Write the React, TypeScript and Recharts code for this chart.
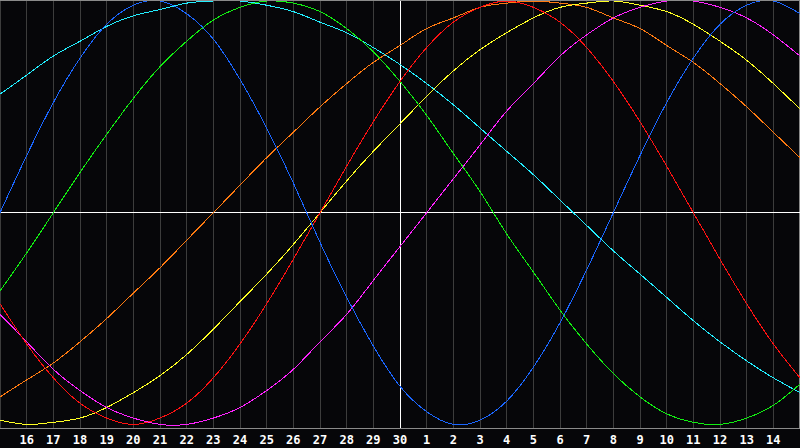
import { LineChart, Line, XAxis, YAxis, CartesianGrid, ReferenceLine } from "recharts";

// day labels for each column of the chart (15th of last month .. 15th of this month)
const dayLabels = [
  "15", "16", "17", "18", "19", "20", "21", "22", "23", "24", "25", "26", "27", "28", "29", "30",
  "1", "2", "3", "4", "5", "6", "7", "8", "9", "10", "11", "12", "13", "14", "15",
];
const tickIdx = [1, 2, 3, 4, 5, 6, 7, 8, 9, 10, 11, 12, 13, 14, 15, 16, 17, 18, 19, 20, 21, 22, 23, 24, 25, 26, 27, 28, 29];

// cycle values in %, one per day
const physical = [0, 27, 52, 73, 89, 98, 100, 94, 82, 63, 40, 14, -14, -40, -63, -82, -94, -100, -98, -89, -73, -52, -27, 0, 27, 52, 73, 89, 98, 100, 94];
const emotional = [-43, -62, -78, -90, -97, -100, -97, -90, -78, -62, -43, -22, 0, 22, 43, 62, 78, 90, 97, 100, 97, 90, 78, 62, 43, 22, 0, -22, -43, -62, -78];
const intellectual = [-37, -19, 0, 19, 37, 54, 69, 81, 91, 97, 100, 99, 95, 87, 76, 62, 46, 28, 10, -10, -28, -46, -62, -76, -87, -95, -99, -100, -97, -91, -81];
const intuitive = [-48, -61, -74, -84, -92, -97, -100, -100, -97, -92, -84, -74, -61, -48, -32, -16, 0, 16, 32, 48, 61, 74, 84, 92, 97, 100, 100, 97, 92, 84, 74];
const aesthetic = [-98, -100, -99, -97, -92, -85, -77, -67, -55, -42, -29, -15, 0, 15, 29, 42, 55, 67, 77, 85, 92, 97, 99, 100, 98, 95, 89, 81, 72, 61, 49];
const awareness = [-87, -79, -71, -61, -50, -38, -26, -13, 0, 13, 26, 38, 50, 61, 71, 79, 87, 92, 97, 99, 100, 99, 97, 92, 87, 79, 71, 61, 50, 38, 26];
const spiritual = [56, 65, 74, 81, 88, 93, 96, 99, 100, 100, 98, 95, 90, 85, 78, 70, 61, 51, 40, 29, 18, 6, -6, -18, -29, -40, -51, -61, -70, -78, -85];

const data = dayLabels.map((_, i) => ({
  idx: i,
  physical: physical[i],
  emotional: emotional[i],
  intellectual: intellectual[i],
  intuitive: intuitive[i],
  aesthetic: aesthetic[i],
  awareness: awareness[i],
  spiritual: spiritual[i],
}));

const series = [
  { key: "spiritual", color: "#22eeff" },
  { key: "awareness", color: "#ff7a10" },
  { key: "aesthetic", color: "#ffff22" },
  { key: "intuitive", color: "#ff22ff" },
  { key: "intellectual", color: "#11ee11" },
  { key: "emotional", color: "#ff1111" },
  { key: "physical", color: "#1a66ff" },
];

export default function App() {
  return (
    <div style={{ position: "absolute", left: 0, top: 0, width: 800, height: 448, background: "#060609" }}>
      <div
        style={{
          position: "absolute", left: 0, top: 0, width: 800, height: 429,
          boxSizing: "border-box", border: "1px solid #8a8a8a",
        }}
      />
      <LineChart
        width={800}
        height={448}
        data={data}
        margin={{ top: 1, right: 0, bottom: 0, left: 0 }}
        style={{ position: "absolute", left: 0, top: 0 }}
      >
        <CartesianGrid stroke="#3c3c3c" horizontal={false} shapeRendering="crispEdges" />
        <XAxis
          dataKey="idx"
          type="number"
          domain={[0, 30]}
          ticks={tickIdx}
          tickFormatter={(i: number) => dayLabels[i]}
          interval={0}
          height={20}
          axisLine={false}
          tickLine={false}
          tickSize={0}
          tickMargin={7}
          tick={{ fill: "#ffffff", fontSize: 12, fontWeight: "bold", fontFamily: "DejaVu Sans Mono" }}
        />
        <YAxis hide type="number" domain={[-101.7, 100]} allowDataOverflow />
        <ReferenceLine x={15} stroke="#ffffff" shapeRendering="crispEdges" />
        <ReferenceLine y={0} stroke="#ffffff" shapeRendering="crispEdges" />
        {series.map((s) => (
          <Line
            key={s.key}
            dataKey={s.key}
            type="natural"
            stroke={s.color}
            strokeWidth={1}
            dot={false}
            activeDot={false}
            isAnimationActive={false}
            shapeRendering="crispEdges"
          />
        ))}
      </LineChart>
    </div>
  );
}
